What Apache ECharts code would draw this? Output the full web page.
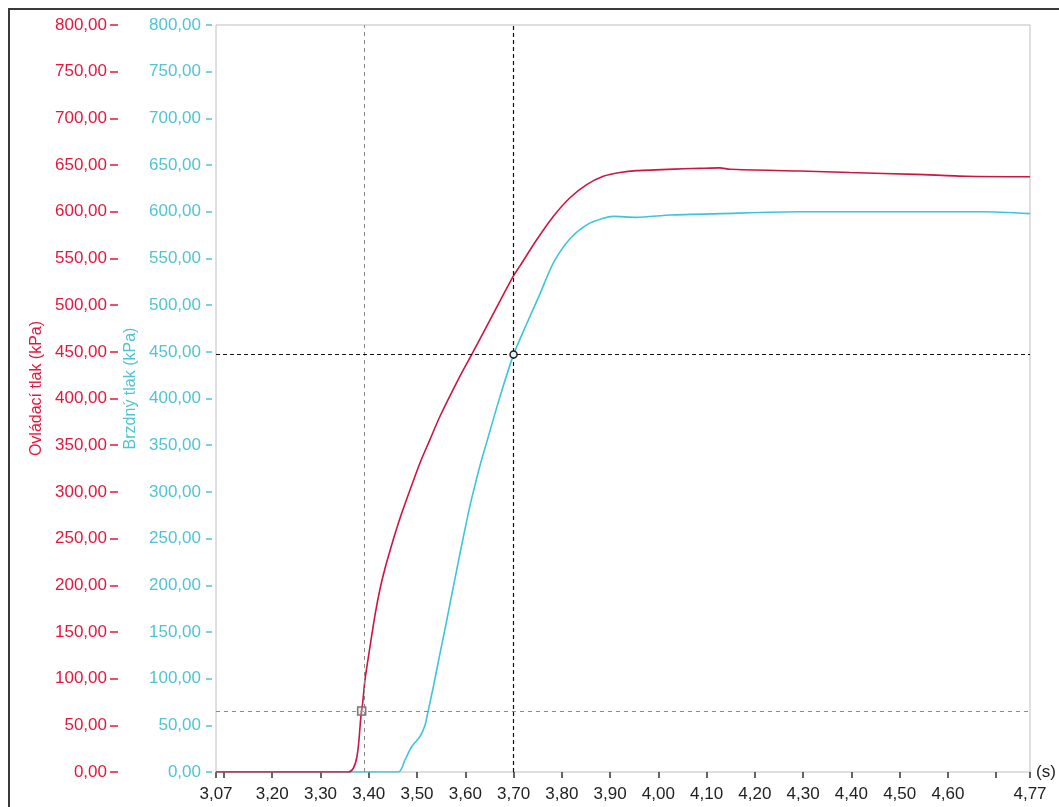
<!DOCTYPE html>
<html>
<head>
<meta charset="utf-8">
<script src="https://cdn.jsdelivr.net/npm/echarts@6/dist/echarts.min.js"></script>
<style>
html,body{margin:0;padding:0;background:#fff;}
#chart{width:1059px;height:807px;}
</style>
</head>
<body>
<div id="chart"></div>
<script>
// ---- data ----
const xMin = 3.0835;
const xMax = 4.77;
const xTickValues = [3.0835, 3.10, 3.20, 3.30, 3.40, 3.50, 3.60, 3.70, 3.80, 3.90, 4.00, 4.10, 4.20, 4.30, 4.40, 4.50, 4.60, 4.70, 4.77];
const xLabelValues = [3.0835, 3.20, 3.30, 3.40, 3.50, 3.60, 3.70, 3.80, 3.90, 4.00, 4.10, 4.20, 4.30, 4.40, 4.50, 4.60, 4.77];
const xLabelTexts = ['3,07', '3,20', '3,30', '3,40', '3,50', '3,60', '3,70', '3,80', '3,90', '4,00', '4,10', '4,20', '4,30', '4,40', '4,50', '4,60', '4,77'];
const xName = '(s)';
const yMin = 0, yMax = 800, yInterval = 50;
const redName = 'Ovládací tlak (kPa)';
const cyanName = 'Brzdný tlak (kPa)';

const tRed = [3.0835, 3.3576, 3.3853, 3.3922, 3.4025, 3.4129, 3.4233, 3.4336, 3.4440, 3.4543, 3.4682, 3.4854, 3.5061, 3.5268, 3.5476, 3.5890, 3.6132, 3.6511, 3.6994, 3.7133, 3.7479, 3.7823, 3.8169, 3.8515, 3.8859, 3.9205, 3.9551, 4.0516, 4.0862, 4.1276, 4.1484, 4.2934, 4.3970, 4.5351, 4.6387, 4.77];
const vRed = [0, 0, 66, 99, 134, 168, 196, 218, 237, 255, 277, 302, 331, 356, 381, 424, 447, 484, 531, 542, 570, 595, 615, 629, 638, 642, 644, 646, 646.5, 647, 645.5, 643.6, 642, 640, 638, 637.5];

const tCyan = [3.0835, 3.4612, 3.4751, 3.4889, 3.5061, 3.5165, 3.5233, 3.5337, 3.5476, 3.5614, 3.5751, 3.5890, 3.6062, 3.6166, 3.6304, 3.6443, 3.6719, 3.7000, 3.7272, 3.7547, 3.7823, 3.8169, 3.8515, 3.8859, 3.9066, 3.9551, 4.0241, 4.1276, 4.2934, 4.6725, 4.77];
const vCyan = [0, 0, 13, 27, 38, 50, 66, 91, 127, 162, 198, 234, 277, 300, 328, 353, 402, 447, 480, 512, 545, 571, 586, 593, 595, 594, 596.5, 598, 600, 600, 598];

const cursorX = [3.3853, 3.70];
const cursorY = [65.4, 447];

// ---- styles ----
const RED_TEXT = '#e3173e';
const RED_LINE = '#cf1440';
const CYAN_TEXT = '#50c4d4';
const CYAN_LINE = '#3cc6d6';
const FONT = 'Liberation Sans';

function fmt(v){ return v.toFixed(2).replace('.', ','); }
function xFmt(v){
  for (let i = 0; i < xLabelValues.length; i++) {
    if (Math.abs(xLabelValues[i] - v) < 1e-6) return xLabelTexts[i];
  }
  return fmt(v);
}
function zip(a, b){ return a.map((x, i) => [x, b[i]]); }

function yAxisCfg(name, textColor, offset, tickLen, nameGap){
  return {
    type: 'value', min: yMin, max: yMax, interval: yInterval,
    position: 'left', offset: offset,
    axisLine: { show: false },
    axisTick: { show: true, length: tickLen, lineStyle: { color: textColor, width: 1.5 } },
    axisLabel: { color: textColor, fontSize: 17, fontFamily: FONT, margin: 11, formatter: fmt },
    splitLine: { show: false },
    name: name, nameLocation: 'middle', nameGap: nameGap,
    nameTextStyle: { color: textColor, fontSize: 16, fontFamily: FONT, padding: [0, 0, 0, 20] }
  };
}

const chart = echarts.init(document.getElementById('chart'), null, { renderer: 'canvas' });
chart.setOption({
  animation: false,
  backgroundColor: '#ffffff',
  graphic: [{
    type: 'rect', silent: true, z: 100,
    shape: { x: 9, y: 9, width: 1200, height: 1000 },
    style: { fill: null, stroke: '#3a3a3a', lineWidth: 2 }
  }],
  grid: {
    left: 216, right: 29, top: 25, bottom: 35,
    show: true, borderColor: '#c2bac2', borderWidth: 1, backgroundColor: '#fff'
  },
  xAxis: {
    type: 'value', min: xMin, max: xMax, offset: 5,
    axisLine: { show: false },
    axisTick: { show: true, length: 6, lineStyle: { color: '#333', width: 1.5 }, customValues: xTickValues },
    axisLabel: { customValues: xLabelValues, formatter: xFmt, color: '#222', fontSize: 17, fontFamily: FONT, margin: 9 },
    splitLine: { show: false },
    name: xName, nameLocation: 'end', nameGap: 6,
    nameTextStyle: { color: '#222', fontSize: 17, fontFamily: FONT, padding: [0, 0, 18, 0] }
  },
  yAxis: [
    yAxisCfg(cyanName, CYAN_TEXT, 4, 6, 72),
    yAxisCfg(redName, RED_TEXT, 98, 8, 72)
  ],
  series: [
    {
      name: cyanName, type: 'line', yAxisIndex: 0, showSymbol: false,
      smooth: 0.25,
      data: zip(tCyan, vCyan),
      lineStyle: { color: CYAN_LINE, width: 1.6 },
      itemStyle: { color: CYAN_LINE },
      z: 2,
      markLine: {
        silent: true, symbol: ['none', 'none'], label: { show: false }, animation: false,
        data: [
          { xAxis: cursorX[0], lineStyle: { color: '#8a8a8a', type: [4, 4], width: 1 } },
          { yAxis: cursorY[0], lineStyle: { color: '#8a8a8a', type: [4, 4], width: 1 } },
          { xAxis: cursorX[1], lineStyle: { color: '#111', type: [4, 3], width: 1.2 } },
          { yAxis: cursorY[1], lineStyle: { color: '#111', type: [4, 3], width: 1.2 } }
        ]
      }
    },
    {
      name: redName, type: 'line', yAxisIndex: 1, showSymbol: false,
      smooth: 0.25,
      data: zip(tRed, vRed),
      lineStyle: { color: RED_LINE, width: 1.6 },
      itemStyle: { color: RED_LINE },
      z: 3,
      markPoint: {
        silent: true, label: { show: false }, animation: false,
        data: [
          { coord: [cursorX[0], cursorY[0]], symbol: 'rect', symbolSize: 8,
            itemStyle: { color: 'rgba(200,200,200,0.3)', borderColor: '#777', borderWidth: 1.5 } },
          { coord: [cursorX[1], cursorY[1]], symbol: 'circle', symbolSize: 7,
            itemStyle: { color: '#e6f6f6', borderColor: '#222', borderWidth: 1.5 } }
        ]
      }
    }
  ]
});
</script>
</body>
</html>
